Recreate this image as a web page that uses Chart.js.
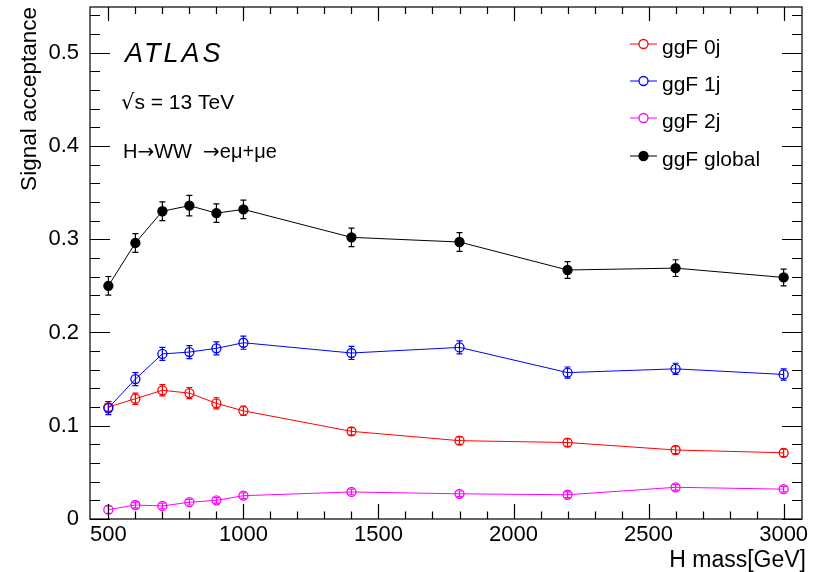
<!DOCTYPE html>
<html>
<head>
<meta charset="utf-8">
<script src="https://cdn.jsdelivr.net/npm/chart.js@4.4.1/dist/chart.umd.min.js"></script>
<style>
  html, body { margin: 0; padding: 0; background: #fff; }
</style>
</head>
<body>
<canvas id="acceptanceChart" width="821" height="572"></canvas>
<script>
// mass points [GeV]
var masses = [500, 600, 700, 800, 900, 1000, 1400, 1800, 2200, 2600, 3000];

// signal acceptance per jet bin, with symmetric errors
var acc0j = [0.120, 0.129, 0.138, 0.135, 0.124, 0.116, 0.094, 0.084, 0.082, 0.074, 0.071];
var err0j = [0.006, 0.006, 0.006, 0.006, 0.006, 0.005, 0.004, 0.004, 0.004, 0.004, 0.004];
var acc1j = [0.119, 0.150, 0.177, 0.179, 0.183, 0.189, 0.178, 0.184, 0.157, 0.161, 0.155];
var err1j = [0.007, 0.007, 0.007, 0.007, 0.007, 0.007, 0.007, 0.007, 0.006, 0.006, 0.006];
var acc2j = [0.010, 0.015, 0.014, 0.018, 0.020, 0.025, 0.029, 0.027, 0.026, 0.034, 0.032];
var err2j = [0.004, 0.003, 0.003, 0.003, 0.003, 0.003, 0.003, 0.003, 0.003, 0.003, 0.003];
var accGlobal = [0.250, 0.296, 0.330, 0.336, 0.328, 0.332, 0.302, 0.297, 0.267, 0.269, 0.259];
var errGlobal = [0.010, 0.010, 0.010, 0.011, 0.010, 0.010, 0.010, 0.010, 0.009, 0.009, 0.009];

var xTicks = [500, 1000, 1500, 2000, 2500, 3000];
var yTicks = [0, 0.1, 0.2, 0.3, 0.4, 0.5];
var legendNames = ['ggF 0j', 'ggF 1j', 'ggF 2j', 'ggF global'];

var FONT = "'Liberation Sans', Arial, Helvetica, sans-serif";
var SYMBOL_FONT = "'DejaVu Sans', sans-serif";

var app = {};

app.Acceptance = {
    init: function () {
        this.drawChart();
    },
    makeSeries: function (label, values, errors, color, filled, order) {
        var points = [];
        for (var i = 0; i < masses.length; i++) {
            points.push({ x: masses[i], y: values[i] });
        }
        return {
            label: label,
            data: points,
            errors: errors,
            borderColor: color,
            borderWidth: 1,
            pointRadius: 4.5,
            pointBorderWidth: 1.3,
            pointBorderColor: color,
            pointBackgroundColor: filled ? color : 'rgba(0,0,0,0)',
            pointHoverRadius: 4.5,
            tension: 0,
            fill: false,
            order: order
        };
    },
    // writes a run of [text, font] pieces one after another
    drawRuns: function (ctx, runs, x, y) {
        runs.forEach(function (run) {
            ctx.font = run[1];
            ctx.fillText(run[0], x, y);
            x += ctx.measureText(run[0]).width;
        });
    },
    drawChart: function () {
        var file = this;

        // error bars, ROOT style frame with inward ticks, legend and labels
        var rootStyle = {
            id: 'rootStyle',
            beforeDatasetsDraw: function (chart) {
                var ctx = chart.ctx;
                chart.data.datasets.forEach(function (ds, di) {
                    var meta = chart.getDatasetMeta(di);
                    ctx.save();
                    ctx.strokeStyle = ds.borderColor;
                    ctx.lineWidth = 1.2;
                    meta.data.forEach(function (pt, i) {
                        var v = ds.data[i].y;
                        var yTop = chart.scales.y.getPixelForValue(v + ds.errors[i]);
                        var yBot = chart.scales.y.getPixelForValue(v - ds.errors[i]);
                        ctx.beginPath();
                        ctx.moveTo(pt.x, yTop);
                        ctx.lineTo(pt.x, yBot);
                        ctx.moveTo(pt.x - 3, yTop);
                        ctx.lineTo(pt.x + 3, yTop);
                        ctx.moveTo(pt.x - 3, yBot);
                        ctx.lineTo(pt.x + 3, yBot);
                        ctx.stroke();
                    });
                    ctx.restore();
                });
            },
            afterDraw: function (chart) {
                var ctx = chart.ctx;
                var area = chart.chartArea;
                var xs = chart.scales.x;
                var ys = chart.scales.y;

                ctx.save();
                ctx.strokeStyle = '#000';
                ctx.lineWidth = 1.2;
                ctx.strokeRect(area.left, area.top, area.right - area.left, area.bottom - area.top);

                ctx.beginPath();
                // x ticks: major 500, minor 100
                for (var m = 500; m <= xs.max; m += 100) {
                    var px = Math.round(xs.getPixelForValue(m)) + 0.5;
                    var major = (m % 500 === 0);
                    ctx.moveTo(px, area.bottom);
                    ctx.lineTo(px, area.bottom - (major ? 15 : 7.5));
                    ctx.moveTo(px, area.top);
                    ctx.lineTo(px, area.top + (major ? 14 : 7));
                }
                // y ticks: major 0.1, minor 0.02
                for (var k = 0; k * 0.02 <= ys.max; k++) {
                    var py = Math.round(ys.getPixelForValue(k * 0.02)) + 0.5;
                    var len = (k % 5 === 0) ? 20 : 10;
                    ctx.moveTo(area.left, py);
                    ctx.lineTo(area.left + len, py);
                    ctx.moveTo(area.right, py);
                    ctx.lineTo(area.right - len, py);
                }
                ctx.stroke();

                // axis titles
                ctx.fillStyle = '#000';
                ctx.font = '23px ' + FONT;
                ctx.textAlign = 'right';
                ctx.textBaseline = 'alphabetic';
                ctx.fillText('H mass[GeV]', 806, 567);
                ctx.save();
                ctx.translate(36, area.top);
                ctx.rotate(-Math.PI / 2);
                ctx.font = '22.5px ' + FONT;
                ctx.fillText('Signal acceptance', 0, 0);
                ctx.restore();

                // labels inside the frame
                ctx.textAlign = 'left';
                ctx.save();
                ctx.font = 'italic 27px ' + FONT;
                ctx.letterSpacing = '3px';
                ctx.fillText('ATLAS', 125, 62);
                ctx.restore();
                file.drawRuns(ctx, [
                    ['\u221A', '21px ' + SYMBOL_FONT],
                    ['s = 13 TeV', '21px ' + FONT]
                ], 121, 109);
                file.drawRuns(ctx, [
                    ['H', '20px ' + FONT],
                    ['\u2192', '20px ' + SYMBOL_FONT],
                    ['WW  ', '20px ' + FONT],
                    ['\u2192', '20px ' + SYMBOL_FONT],
                    ['e\u03BC+\u03BCe', '20px ' + FONT]
                ], 123, 158);

                // legend
                var rows = [44, 81, 118, 156];
                rows.forEach(function (y, di) {
                    var ds = chart.data.datasets[di];
                    ctx.strokeStyle = ds.borderColor;
                    ctx.lineWidth = 1;
                    ctx.beginPath();
                    ctx.moveTo(630, y);
                    ctx.lineTo(657, y);
                    ctx.stroke();
                    ctx.beginPath();
                    ctx.arc(643.5, y, 4.5, 0, Math.PI * 2);
                    ctx.fillStyle = '#fff';
                    if (ds.pointBackgroundColor !== 'rgba(0,0,0,0)') {
                        ctx.fillStyle = ds.pointBackgroundColor;
                    }
                    ctx.fill();
                    ctx.lineWidth = 1.3;
                    ctx.stroke();
                    ctx.fillStyle = '#000';
                    ctx.font = '21px ' + FONT;
                    ctx.fillText(legendNames[di], 662, y + 10);
                });
                ctx.restore();
            }
        };

        var chartData = {
            datasets: [
                file.makeSeries(legendNames[0], acc0j, err0j, '#ff0000', false, 4),
                file.makeSeries(legendNames[1], acc1j, err1j, '#0000ff', false, 3),
                file.makeSeries(legendNames[2], acc2j, err2j, '#ff00ff', false, 2),
                file.makeSeries(legendNames[3], accGlobal, errGlobal, '#000000', true, 1)
            ]
        };

        var chartOptions = {
            responsive: false,
            animation: false,
            layout: { padding: { top: 7, right: 19, left: 0, bottom: 0 } },
            plugins: {
                legend: { display: false },
                tooltip: { enabled: false }
            },
            scales: {
                x: {
                    type: 'linear',
                    min: 432,
                    max: 3068,
                    grid: { display: false },
                    border: { display: false },
                    afterBuildTicks: function (scale) {
                        scale.ticks = xTicks.map(function (v) { return { value: v }; });
                    },
                    afterFit: function (scale) {
                        scale.height = 53;
                        scale.paddingLeft = 0;
                        scale.paddingRight = 0;
                    },
                    ticks: {
                        color: '#000',
                        padding: -5,
                        maxRotation: 0,
                        autoSkip: false,
                        font: { family: FONT, size: 22 },
                        callback: function (v) { return String(v); }
                    }
                },
                y: {
                    type: 'linear',
                    min: 0,
                    max: 0.549,
                    grid: { display: false },
                    border: { display: false },
                    afterBuildTicks: function (scale) {
                        scale.ticks = yTicks.map(function (v) { return { value: v }; });
                    },
                    afterFit: function (scale) {
                        scale.width = 90;
                        scale.paddingTop = 0;
                        scale.paddingBottom = 0;
                    },
                    ticks: {
                        color: '#000',
                        padding: 3,
                        autoSkip: false,
                        font: { family: FONT, size: 22 },
                        callback: function (v) { return v === 0 ? '0' : v.toFixed(1); }
                    }
                }
            }
        };

        var canvas = document.getElementById('acceptanceChart').getContext('2d');
        new Chart(canvas, {
            type: 'line',
            data: chartData,
            options: chartOptions,
            plugins: [rootStyle]
        });
    }
};

app.Acceptance.init();
</script>
</body>
</html>
